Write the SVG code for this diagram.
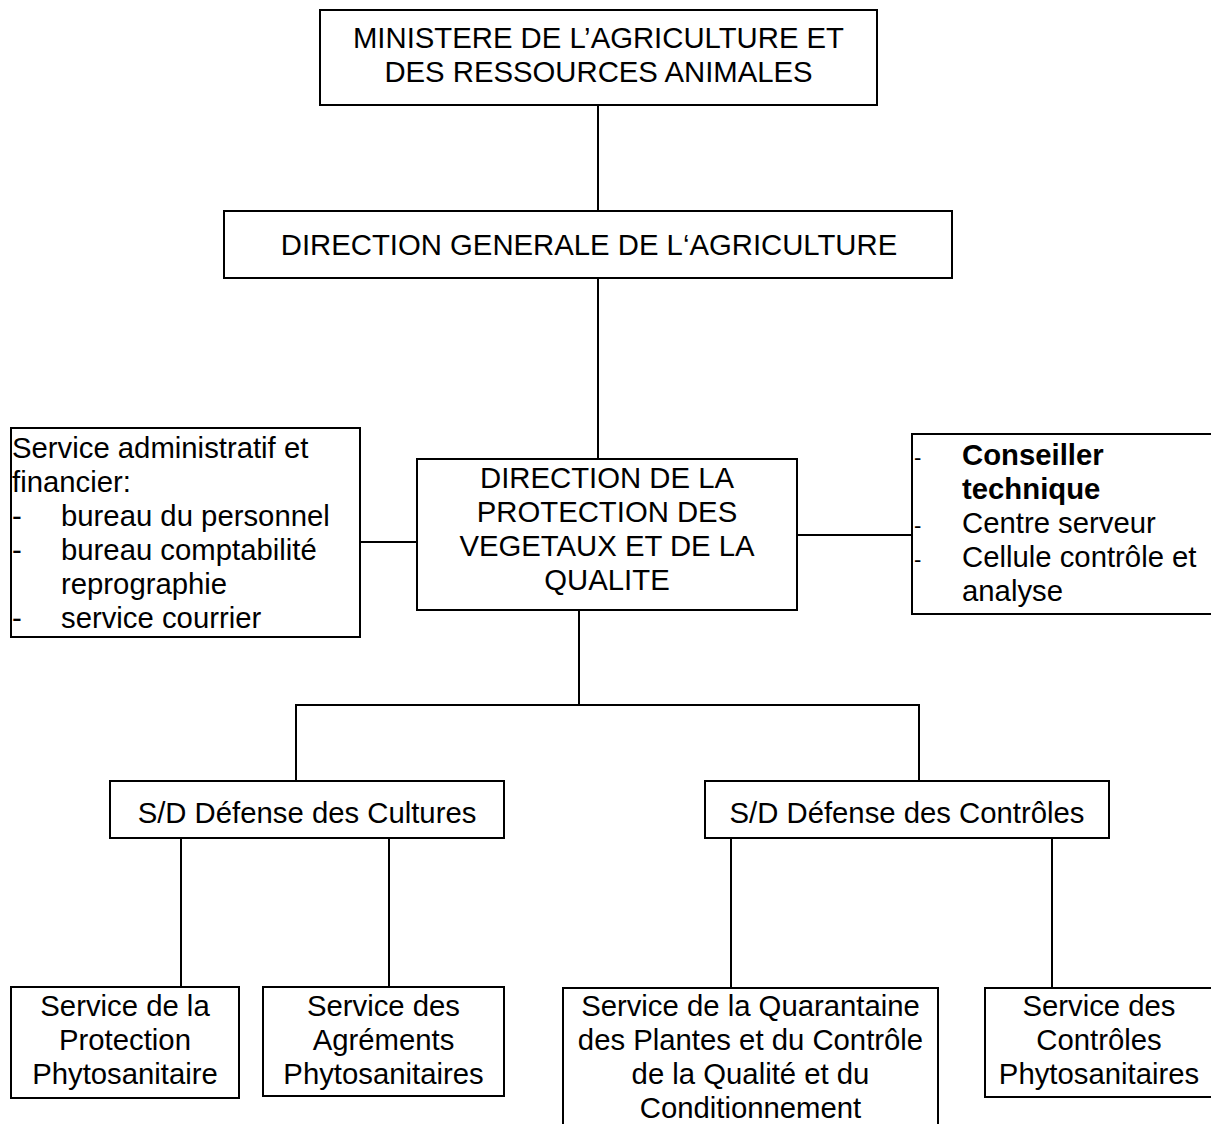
<svg xmlns="http://www.w3.org/2000/svg" width="1211" height="1124" viewBox="0 0 1211 1124">
<style>
.box{fill:#fff;stroke:#000;stroke-width:2}
.ln{stroke:#000;stroke-width:2;fill:none}
text{font-family:"Liberation Sans",Arial,sans-serif;font-size:29.3px;fill:#000}
.c{text-anchor:middle}
.b{font-weight:bold}
</style>
<rect width="1211" height="1124" fill="#fff"/>
<g id="connectors">
<line class="ln" x1="598" y1="105" x2="598" y2="211"/>
<line class="ln" x1="598" y1="278" x2="598" y2="459"/>
<line class="ln" x1="360" y1="542" x2="417" y2="542"/>
<line class="ln" x1="797" y1="535" x2="912" y2="535"/>
<line class="ln" x1="579" y1="610" x2="579" y2="705"/>
<line class="ln" x1="295" y1="705" x2="920" y2="705"/>
<line class="ln" x1="296" y1="705" x2="296" y2="781"/>
<line class="ln" x1="919" y1="705" x2="919" y2="781"/>
<line class="ln" x1="181" y1="838" x2="181" y2="987"/>
<line class="ln" x1="389" y1="838" x2="389" y2="987"/>
<line class="ln" x1="731" y1="838" x2="731" y2="988"/>
<line class="ln" x1="1052" y1="838" x2="1052" y2="988"/>
</g>
<g id="ministere">
<rect class="box" x="320" y="10" width="557" height="95"/>
<text class="c" x="598.5" y="48">MINISTERE DE L’AGRICULTURE ET</text>
<text class="c" x="598.5" y="82">DES RESSOURCES ANIMALES</text>
</g>
<g id="dga">
<rect class="box" x="224" y="211" width="728" height="67"/>
<text class="c" x="589" y="255">DIRECTION GENERALE DE L‘AGRICULTURE</text>
</g>
<g id="dpvq">
<rect class="box" x="417" y="459" width="380" height="151"/>
<text class="c" x="607" y="488">DIRECTION DE LA</text>
<text class="c" x="607" y="522">PROTECTION DES</text>
<text class="c" x="607" y="556">VEGETAUX ET DE LA</text>
<text class="c" x="607" y="590">QUALITE</text>
</g>
<g id="saf">
<rect class="box" x="11" y="428" width="349" height="209"/>
<text x="12" y="458">Service administratif et</text>
<text x="12" y="492">financier:</text>
<text x="12" y="526">-</text><text x="61" y="526">bureau du personnel</text>
<text x="12" y="560">-</text><text x="61" y="560">bureau comptabilité</text>
<text x="61" y="594">reprographie</text>
<text x="12" y="628">-</text><text x="61" y="628">service courrier</text>
</g>
<g id="conseiller">
<rect class="box" x="912" y="434" width="305" height="180"/>
<text x="914" y="465" style="font-size:22px">-</text><text class="b" x="962" y="465">Conseiller</text>
<text class="b" x="962" y="499">technique</text>
<text x="914" y="533" style="font-size:22px">-</text><text x="962" y="533">Centre serveur</text>
<text x="914" y="567" style="font-size:22px">-</text><text x="962" y="567">Cellule contrôle et</text>
<text x="962" y="601">analyse</text>
</g>
<g id="sd-cultures">
<rect class="box" x="110" y="781" width="394" height="57"/>
<text class="c" x="307" y="823">S/D Défense des Cultures</text>
</g>
<g id="sd-controles">
<rect class="box" x="705" y="781" width="404" height="57"/>
<text class="c" x="907" y="823">S/D Défense des Contrôles</text>
</g>
<g id="spp">
<rect class="box" x="11" y="987" width="228" height="111"/>
<text class="c" x="125" y="1016">Service de la</text>
<text class="c" x="125" y="1050">Protection</text>
<text class="c" x="125" y="1084">Phytosanitaire</text>
</g>
<g id="sap">
<rect class="box" x="263" y="987" width="241" height="109"/>
<text class="c" x="383.5" y="1016">Service des</text>
<text class="c" x="383.5" y="1050">Agréments</text>
<text class="c" x="383.5" y="1084">Phytosanitaires</text>
</g>
<g id="sqp">
<rect class="box" x="563" y="988" width="375" height="150"/>
<text class="c" x="750.5" y="1016">Service de la Quarantaine</text>
<text class="c" x="750.5" y="1050">des Plantes et du Contrôle</text>
<text class="c" x="750.5" y="1084">de la Qualité et du</text>
<text class="c" x="750.5" y="1118">Conditionnement</text>
</g>
<g id="scp">
<rect class="box" x="985" y="988" width="230" height="109"/>
<text class="c" x="1099" y="1016">Service des</text>
<text class="c" x="1099" y="1050">Contrôles</text>
<text class="c" x="1099" y="1084">Phytosanitaires</text>
</g>
</svg>
